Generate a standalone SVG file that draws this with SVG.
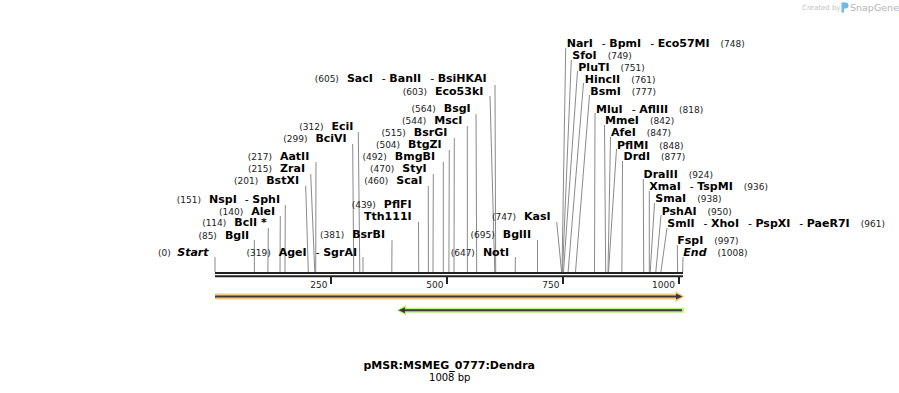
<svg xmlns="http://www.w3.org/2000/svg" width="899" height="393" viewBox="0 0 899 393">
<style>
text{font-family:"DejaVu Sans",Verdana,sans-serif;font-size:11px;font-weight:bold;fill:#000}
.n{font-size:9px;font-weight:normal;fill:#222}
.d{font-weight:normal}
.i{font-style:italic}
.le{text-anchor:end}
.c line{stroke:#8a8a8a;stroke-width:1}
.tk{font-size:9px;font-weight:normal;fill:#222;text-anchor:end}
.ax{stroke:#222;stroke-width:2}
</style>
<rect width="899" height="393" fill="#fff"/>

<g id="watermark">
<text x="802" y="10" style="font-size:7px;font-weight:normal;fill:#c4c4c4">Created by</text>
<path d="M841.5,2.5 h4 a3,3 0 0 1 0,6 h-1.5 v4 h-2.5 z" fill="#6fb8ea"/>
<text x="850" y="11" style="font-size:9.5px;font-weight:normal;fill:#b4b4b4">SnapGene</text>
</g>

<g id="connectors" class="c">
<line x1="215" y1="257" x2="215" y2="272"/>
<line x1="363" y1="257" x2="363" y2="272"/>
<line x1="515.4" y1="257" x2="515.2" y2="272"/>
<line x1="254.3" y1="240" x2="254.4" y2="272"/>
<line x1="392" y1="240" x2="391.8" y2="272"/>
<line x1="537.5" y1="240" x2="537.5" y2="272"/>
<line x1="268.3" y1="228" x2="267.9" y2="272"/>
<line x1="418.5" y1="222" x2="418.7" y2="272"/>
<line x1="556.7" y1="222" x2="561.6" y2="272"/>
<line x1="280.3" y1="216" x2="280" y2="272"/>
<line x1="285.3" y1="205" x2="285" y2="272"/>
<line x1="305.7" y1="186" x2="308.3" y2="272"/>
<line x1="428.3" y1="186" x2="428.4" y2="272"/>
<line x1="310.7" y1="174" x2="314.8" y2="272"/>
<line x1="433.3" y1="174" x2="433" y2="272"/>
<line x1="316" y1="162" x2="315.7" y2="272"/>
<line x1="443.3" y1="162" x2="443.3" y2="272"/>
<line x1="449.3" y1="150" x2="448.9" y2="272"/>
<line x1="352.7" y1="144" x2="353.7" y2="272"/>
<line x1="454.3" y1="138" x2="454" y2="272"/>
<line x1="358.3" y1="132" x2="359.8" y2="272"/>
<line x1="467.3" y1="126" x2="467.4" y2="272"/>
<line x1="476" y1="114" x2="476.7" y2="272"/>
<line x1="490" y1="96" x2="494.8" y2="272"/>
<line x1="495" y1="85" x2="495.7" y2="272"/>
<line x1="565.7" y1="48" x2="562" y2="272"/>
<line x1="571.3" y1="60" x2="562.5" y2="272"/>
<line x1="577.5" y1="71" x2="563.5" y2="272"/>
<line x1="583.5" y1="83" x2="568.1" y2="272"/>
<line x1="589.5" y1="95" x2="575.5" y2="272"/>
<line x1="595" y1="113" x2="594.5" y2="272"/>
<line x1="604.5" y1="125" x2="605.7" y2="272"/>
<line x1="610.5" y1="137" x2="608" y2="272"/>
<line x1="616.5" y1="149" x2="608.5" y2="272"/>
<line x1="622.5" y1="161" x2="621.9" y2="272"/>
<line x1="643.3" y1="179" x2="643.7" y2="272"/>
<line x1="649.3" y1="191" x2="649.3" y2="272"/>
<line x1="654.5" y1="203" x2="650.2" y2="272"/>
<line x1="661" y1="215" x2="655.8" y2="272"/>
<line x1="667" y1="228" x2="660.9" y2="272"/>
<line x1="677.3" y1="245" x2="677.6" y2="272"/>
<line x1="683" y1="257" x2="682.7" y2="272"/>
</g>

<g id="axis">
<line class="ax" x1="215" y1="273" x2="683" y2="273"/>
<line class="ax" x1="215" y1="276.3" x2="683" y2="276.3"/>
<rect x="330" y="277" width="2" height="7" fill="#222"/>
<rect x="446" y="277" width="2" height="7" fill="#222"/>
<rect x="562" y="277" width="2" height="7" fill="#222"/>
<rect x="678" y="277" width="2" height="7" fill="#222"/>
<text class="tk" x="327.5" y="287.5">250</text>
<text class="tk" x="443.5" y="287.5">500</text>
<text class="tk" x="559.5" y="287.5">750</text>
<text class="tk" x="675" y="287.5">1000</text>
</g>

<g id="feature-orange">
<path d="M215,293.5 H675.5 V291 L684.5,296.6 L675.5,302.2 V299.5 H215 Z" fill="#fbc979"/>
<line x1="215" y1="296.6" x2="677" y2="296.6" stroke="#3a3a3a" stroke-width="2"/>
<path d="M676,293.6 L682.5,296.6 L676,299.6 Z" fill="#3a3a3a"/>
</g>
<g id="feature-green">
<path d="M684,307.7 H406 V305 L396.5,310.2 L406,315.4 V312.7 H684 Z" fill="#b9f08a"/>
<line x1="403" y1="310.2" x2="682" y2="310.2" stroke="#3a3a3a" stroke-width="2"/>
<path d="M405,307.2 L398.5,310.2 L405,313.2 Z" fill="#3a3a3a"/>
</g>

<g id="lbl-start"><text class="le" x="208.5" y="256"><tspan class="n">(0)</tspan><tspan class="i" dx="6.5">Start</tspan></text></g>
<g id="lbl-agei"><text class="le" x="357" y="256"><tspan class="n">(319)</tspan><tspan dx="8">AgeI</tspan><tspan class="d" dx="9">-</tspan><tspan dx="3.5">SgrAI</tspan></text></g>
<g id="lbl-noti"><text class="le" x="509" y="256.3"><tspan class="n">(647)</tspan><tspan dx="8">NotI</tspan></text></g>
<g id="lbl-bgli"><text class="le" x="249" y="238.5"><tspan class="n">(85)</tspan><tspan dx="8">BglI</tspan></text></g>
<g id="lbl-bsrbi"><text class="le" x="385" y="238.3"><tspan class="n">(381)</tspan><tspan dx="8">BsrBI</tspan></text></g>
<g id="lbl-bglii"><text class="le" x="531" y="238.3"><tspan class="n">(695)</tspan><tspan dx="8">BglII</tspan></text></g>
<g id="lbl-bcli"><text class="le" x="266.7" y="226.3"><tspan class="n">(114)</tspan><tspan dx="8">BclI *</tspan></text></g>
<g id="lbl-tth111i"><text class="le" x="411.7" y="219.8">Tth111I</text></g>
<g id="lbl-kasi"><text class="le" x="550.7" y="219.8"><tspan class="n">(747)</tspan><tspan dx="8">KasI</tspan></text></g>
<g id="lbl-alei"><text class="le" x="275" y="214.6"><tspan class="n">(140)</tspan><tspan dx="8">AleI</tspan></text></g>
<g id="lbl-pflfi"><text class="le" x="411.7" y="208"><tspan class="n">(439)</tspan><tspan dx="8">PflFI</tspan></text></g>
<g id="lbl-nspi"><text class="le" x="280" y="202.5"><tspan class="n">(151)</tspan><tspan dx="8">NspI</tspan><tspan class="d" dx="8">-</tspan><tspan dx="3.5">SphI</tspan></text></g>
<g id="lbl-bstxi"><text class="le" x="299" y="184.3"><tspan class="n">(201)</tspan><tspan dx="8">BstXI</tspan></text></g>
<g id="lbl-scai"><text class="le" x="422.3" y="184.3"><tspan class="n">(460)</tspan><tspan dx="8">ScaI</tspan></text></g>
<g id="lbl-zrai"><text class="le" x="305" y="172.4"><tspan class="n">(215)</tspan><tspan dx="8">ZraI</tspan></text></g>
<g id="lbl-styi"><text class="le" x="426.7" y="172.4"><tspan class="n">(470)</tspan><tspan dx="8">StyI</tspan></text></g>
<g id="lbl-aatii"><text class="le" x="309.3" y="160.3"><tspan class="n">(217)</tspan><tspan dx="8">AatII</tspan></text></g>
<g id="lbl-bmgbi"><text class="le" x="435" y="160.3"><tspan class="n">(492)</tspan><tspan dx="8">BmgBI</tspan></text></g>
<g id="lbl-btgzi"><text class="le" x="441.7" y="148.4"><tspan class="n">(504)</tspan><tspan dx="8">BtgZI</tspan></text></g>
<g id="lbl-bcivi"><text class="le" x="346.7" y="142"><tspan class="n">(299)</tspan><tspan dx="8">BciVI</tspan></text></g>
<g id="lbl-bsrgi"><text class="le" x="447.3" y="136"><tspan class="n">(515)</tspan><tspan dx="8">BsrGI</tspan></text></g>
<g id="lbl-ecii"><text class="le" x="353.3" y="130"><tspan class="n">(312)</tspan><tspan dx="8">EciI</tspan></text></g>
<g id="lbl-msci"><text class="le" x="462.3" y="124.4"><tspan class="n">(544)</tspan><tspan dx="8">MscI</tspan></text></g>
<g id="lbl-bsgi"><text class="le" x="470.7" y="112.4"><tspan class="n">(564)</tspan><tspan dx="8">BsgI</tspan></text></g>
<g id="lbl-eco53ki"><text class="le" x="483.3" y="94.6"><tspan class="n">(603)</tspan><tspan dx="8">Eco53kI</tspan></text></g>
<g id="lbl-saci"><text class="le" x="486.7" y="82"><tspan class="n">(605)</tspan><tspan dx="8">SacI</tspan><tspan class="d" dx="9">-</tspan><tspan dx="3.5">BanII</tspan><tspan class="d" dx="9">-</tspan><tspan dx="3.5">BsiHKAI</tspan></text></g>

<g id="lbl-nari"><text x="566.7" y="47.3">NarI<tspan class="d" dx="9">-</tspan><tspan dx="3.5">BpmI</tspan><tspan class="d" dx="9">-</tspan><tspan dx="3.5">Eco57MI</tspan><tspan class="n" dx="11">(748)</tspan></text></g>
<g id="lbl-sfoi"><text x="572.3" y="59">SfoI<tspan class="n" dx="11">(749)</tspan></text></g>
<g id="lbl-pluti"><text x="578.3" y="70.6">PluTI<tspan class="n" dx="11">(751)</tspan></text></g>
<g id="lbl-hincii"><text x="584.7" y="82.6">HincII<tspan class="n" dx="11">(761)</tspan></text></g>
<g id="lbl-bsmi"><text x="590.3" y="94.6">BsmI<tspan class="n" dx="11">(777)</tspan></text></g>
<g id="lbl-mlui"><text x="596" y="112.6">MluI<tspan class="d" dx="9">-</tspan><tspan dx="3.5">AflIII</tspan><tspan class="n" dx="11">(818)</tspan></text></g>
<g id="lbl-mmei"><text x="605" y="124.2">MmeI<tspan class="n" dx="11">(842)</tspan></text></g>
<g id="lbl-afei"><text x="611" y="136">AfeI<tspan class="n" dx="11">(847)</tspan></text></g>
<g id="lbl-pflmi"><text x="617" y="148.5">PflMI<tspan class="n" dx="11">(848)</tspan></text></g>
<g id="lbl-drdi"><text x="623.5" y="160">DrdI<tspan class="n" dx="11">(877)</tspan></text></g>
<g id="lbl-draiii"><text x="643.5" y="178">DraIII<tspan class="n" dx="11">(924)</tspan></text></g>
<g id="lbl-xmai"><text x="649.3" y="190">XmaI<tspan class="d" dx="9">-</tspan><tspan dx="3.5">TspMI</tspan><tspan class="n" dx="11">(936)</tspan></text></g>
<g id="lbl-smai"><text x="655.3" y="201.5">SmaI<tspan class="n" dx="11">(938)</tspan></text></g>
<g id="lbl-pshai"><text x="661.7" y="214.5">PshAI<tspan class="n" dx="11">(950)</tspan></text></g>
<g id="lbl-smli"><text x="667.3" y="226.5">SmlI<tspan class="d" dx="9">-</tspan><tspan dx="3.5">XhoI</tspan><tspan class="d" dx="9">-</tspan><tspan dx="3.5">PspXI</tspan><tspan class="d" dx="9">-</tspan><tspan dx="3.5">PaeR7I</tspan><tspan class="n" dx="11">(961)</tspan></text></g>
<g id="lbl-fspi"><text x="677.3" y="244">FspI<tspan class="n" dx="11">(997)</tspan></text></g>
<g id="lbl-end"><text x="683.3" y="255.7"><tspan class="i">End</tspan><tspan class="n" dx="11">(1008)</tspan></text></g>

<g id="title">
<text x="449.2" y="369" text-anchor="middle">pMSR:MSMEG_0777:Dendra</text>
<text x="449.7" y="380.5" text-anchor="middle" style="font-size:10px;font-weight:normal">1008 bp</text>
</g>
</svg>
